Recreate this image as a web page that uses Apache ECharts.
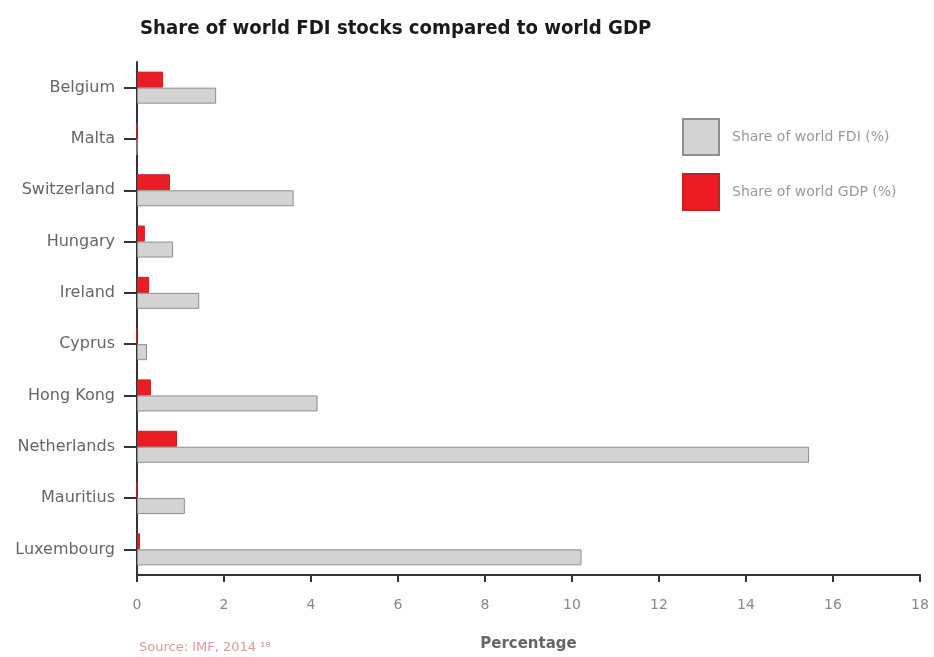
<!DOCTYPE html>
<html>
<head>
<meta charset="utf-8">
<script src="https://cdn.jsdelivr.net/npm/echarts@6/dist/echarts.min.js"></script>
<style>
  html, body { margin: 0; padding: 0; background: #fff; }
  #chart { width: 934px; height: 657px; }
</style>
</head>
<body>
<div id="chart"></div>
<script>
// countries, top to bottom
var countries = ['Belgium', 'Malta', 'Switzerland', 'Hungary', 'Ireland', 'Cyprus', 'Hong Kong', 'Netherlands', 'Mauritius', 'Luxembourg'];
// share of world FDI stocks (%)
var fdiShare = [1.82, 0, 3.6, 0.83, 1.43, 0.23, 4.15, 15.45, 1.1, 10.22];
// share of world GDP (%)
var gdpShare = [0.6, 0, 0.76, 0.18, 0.28, 0, 0.32, 0.92, 0, 0.07];
var xTicks = [0, 2, 4, 6, 8, 10, 12, 14, 16, 18];

var chart = echarts.init(document.getElementById('chart'));

var option = {
    animation: false,
    title: [{
        text: 'Share of world FDI stocks compared to world GDP',
        left: 135,
        top: 14,
        textStyle: {
            fontFamily: 'DejaVu Sans Condensed',
            fontWeight: 'bold',
            fontSize: 20.2,
            color: '#1a1a1a'
        }
    }, {
        text: 'Source: IMF, 2014 ¹⁸',
        left: 134,
        top: 636,
        textStyle: {
            fontFamily: 'DejaVu Sans',
            fontWeight: 'normal',
            fontSize: 13,
            color: '#d99a9a'
        }
    }],
    legend: {
        orient: 'vertical',
        left: 682,
        top: 118,
        padding: 0,
        itemWidth: 36,
        itemHeight: 36,
        itemGap: 17,
        icon: 'rect',
        data: ['Share of world FDI (%)', 'Share of world GDP (%)'],
        textStyle: {
            fontFamily: 'DejaVu Sans',
            fontSize: 14,
            color: '#999',
            padding: [0, 0, 0, 8]
        }
    },
    grid: {
        left: 137,
        right: 14,
        top: 62,
        bottom: 82,
        containLabel: false
    },
    xAxis: {
        type: 'value',
        min: 0,
        max: 18,
        interval: 2,
        name: 'Percentage',
        nameLocation: 'middle',
        nameGap: 62,
        nameTextStyle: {
            fontFamily: 'DejaVu Sans',
            fontWeight: 'bold',
            fontSize: 15,
            color: '#666'
        },
        axisLine: { show: true, lineStyle: { color: '#333', width: 2 } },
        axisTick: { show: true, length: 7, lineStyle: { color: '#333', width: 2 } },
        axisLabel: {
            margin: 23,
            fontFamily: 'DejaVu Sans',
            fontSize: 14,
            color: '#888',
            formatter: function (v) { return xTicks.indexOf(v) >= 0 ? String(v) : ''; }
        },
        splitLine: { show: false }
    },
    yAxis: {
        type: 'category',
        data: countries,
        inverse: true,
        axisLine: { show: true, lineStyle: { color: '#333', width: 2 } },
        axisTick: { show: true, alignWithLabel: true, length: 13, lineStyle: { color: '#333', width: 2 } },
        axisLabel: {
            margin: 22,
            fontFamily: 'DejaVu Sans',
            fontSize: 16,
            color: '#666'
        }
    },
    series: [{
        name: 'Share of world GDP (%)',
        type: 'bar',
        data: gdpShare,
        barWidth: 16,
        barGap: '0%',
        itemStyle: { color: '#ec1c24', borderColor: '#c4222a', borderWidth: 1 }
    }, {
        name: 'Share of world FDI (%)',
        type: 'bar',
        data: fdiShare,
        barWidth: 16,
        barGap: '0%',
        itemStyle: { color: '#d3d3d3', borderColor: '#8e8e8e', borderWidth: 1 }
    }]
};

chart.setOption(option);
</script>
</body>
</html>
